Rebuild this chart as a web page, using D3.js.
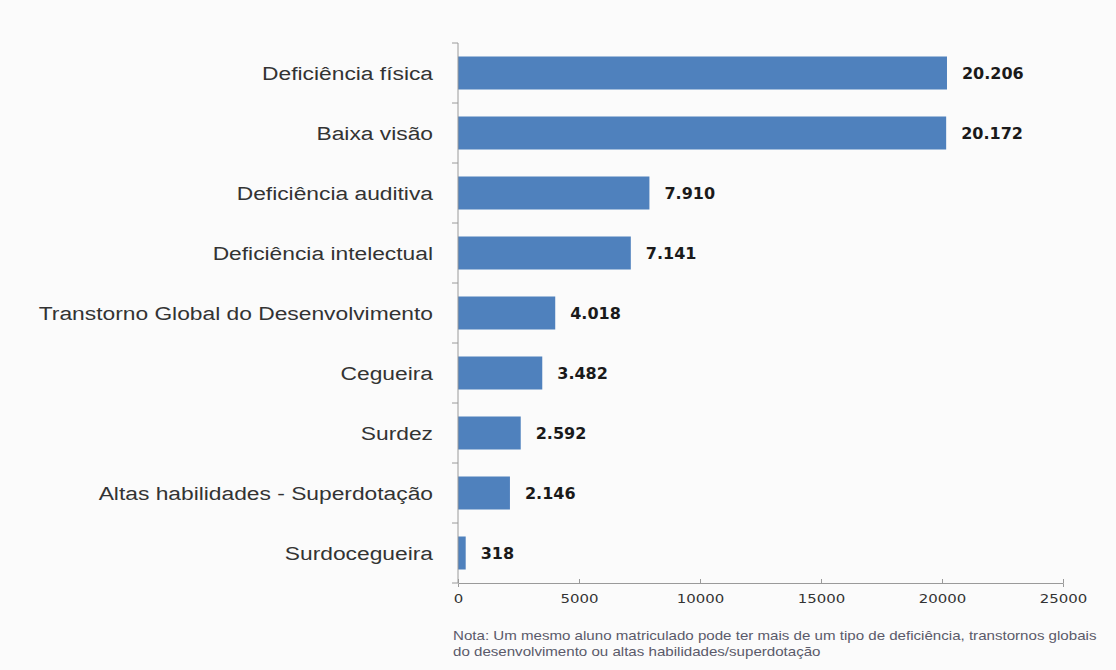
<!DOCTYPE html>
<html>
<head>
<meta charset="utf-8">
<script src="https://cdn.jsdelivr.net/npm/d3@7"></script>
<style>
  body { margin: 0; background: #fff; }
  svg { display: block; }
</style>
</head>
<body>
<div id="chart"></div>
<script>
// 데이터
const categories = [
    'Deficiência física',
    'Baixa visão',
    'Deficiência auditiva',
    'Deficiência intelectual',
    'Transtorno Global do Desenvolvimento',
    'Cegueira',
    'Surdez',
    'Altas habilidades - Superdotação',
    'Surdocegueira'
];
const values = [20206, 20172, 7910, 7141, 4018, 3482, 2592, 2146, 318];
const xTicks = [0, 5000, 10000, 15000, 20000, 25000];
const noteLines = [
    'Nota: Um mesmo aluno matriculado pode ter mais de um tipo de deficiência, transtornos globais',
    'do desenvolvimento ou altas habilidades/superdotação'
];

const W = 1116, H = 670;
const margin = { top: 43, right: 53, bottom: 87, left: 458 };
const width = W - margin.left - margin.right;
const height = H - margin.top - margin.bottom;

const svg = d3.select('#chart').append('svg')
    .attr('width', W)
    .attr('height', H);

svg.append('rect').attr('width', W).attr('height', H).attr('fill', '#fbfbfb');

const g = svg.append('g')
    .attr('transform', `translate(${margin.left},${margin.top})`);

const xScale = d3.scaleLinear().domain([0, 25000]).range([0, width]);
const yScale = d3.scaleBand().domain(categories).range([0, height]).paddingInner(0.45).paddingOuter(0.225);

// 막대
g.selectAll('.bar')
    .data(values)
    .enter()
    .append('rect')
    .attr('class', 'bar')
    .attr('x', 0)
    .attr('y', (d, i) => yScale(categories[i]))
    .attr('width', d => xScale(d))
    .attr('height', yScale.bandwidth())
    .attr('fill', '#4f81bd');

// 값 라벨
const fmt = d3.formatLocale({ decimal: ',', thousands: '.', grouping: [3], currency: ['', ''] }).format(',d');
g.selectAll('.val')
    .data(values)
    .enter()
    .append('text')
    .attr('x', d => xScale(d) + 15)
    .attr('y', (d, i) => yScale(categories[i]) + yScale.bandwidth() / 2)
    .attr('dy', '0.38em')
    .attr('font-family', 'DejaVu Sans, Verdana, sans-serif')
    .attr('font-weight', 'bold')
    .attr('font-size', 16)
    .attr('fill', '#1a1a1a')
    .text(d => fmt(d));

// Y축 (밴드 경계에 눈금)
const step = yScale.step();
const yAxisG = g.append('g');
yAxisG.append('line')
    .attr('x1', 0).attr('x2', 0)
    .attr('y1', 0).attr('y2', height)
    .attr('stroke', '#9a9a9a');
yAxisG.selectAll('.ytick')
    .data(d3.range(categories.length + 1))
    .enter()
    .append('line')
    .attr('x1', -6).attr('x2', 0)
    .attr('y1', i => i * step).attr('y2', i => i * step)
    .attr('stroke', '#9a9a9a');
yAxisG.selectAll('.ylab')
    .data(categories)
    .enter()
    .append('text')
    .attr('transform', d => `translate(-25,${yScale(d) + yScale.bandwidth() / 2}) scale(1.2,1)`)
    .attr('dy', '0.35em')
    .attr('text-anchor', 'end')
    .attr('font-family', 'Liberation Sans, Arial, sans-serif')
    .attr('font-size', 19)
    .attr('fill', '#333')
    .text(d => d);

// X축
const xAxisG = g.append('g')
    .attr('transform', `translate(0,${height})`)
    .call(d3.axisBottom(xScale).tickValues(xTicks).tickSize(4).tickPadding(8).tickFormat(d3.format('d')));
xAxisG.select('.domain').attr('stroke', '#9a9a9a');
xAxisG.selectAll('.tick line').attr('stroke', '#9a9a9a').attr('transform', 'translate(0,-4)');
xAxisG.selectAll('.tick text')
    .attr('font-family', 'DejaVu Sans, Verdana, sans-serif')
    .attr('font-size', 11.5)
    .attr('fill', '#333')
    .attr('transform', 'scale(1.3,1)');

// 주석
svg.selectAll('.note')
    .data(noteLines)
    .enter()
    .append('text')
    .attr('transform', (d, i) => `translate(453,${640 + i * 16}) scale(1.26,1)`)
    .attr('font-family', 'Liberation Sans, Arial, sans-serif')
    .attr('font-size', 12)
    .attr('fill', '#5a5a6a')
    .text(d => d);
</script>
</body>
</html>
